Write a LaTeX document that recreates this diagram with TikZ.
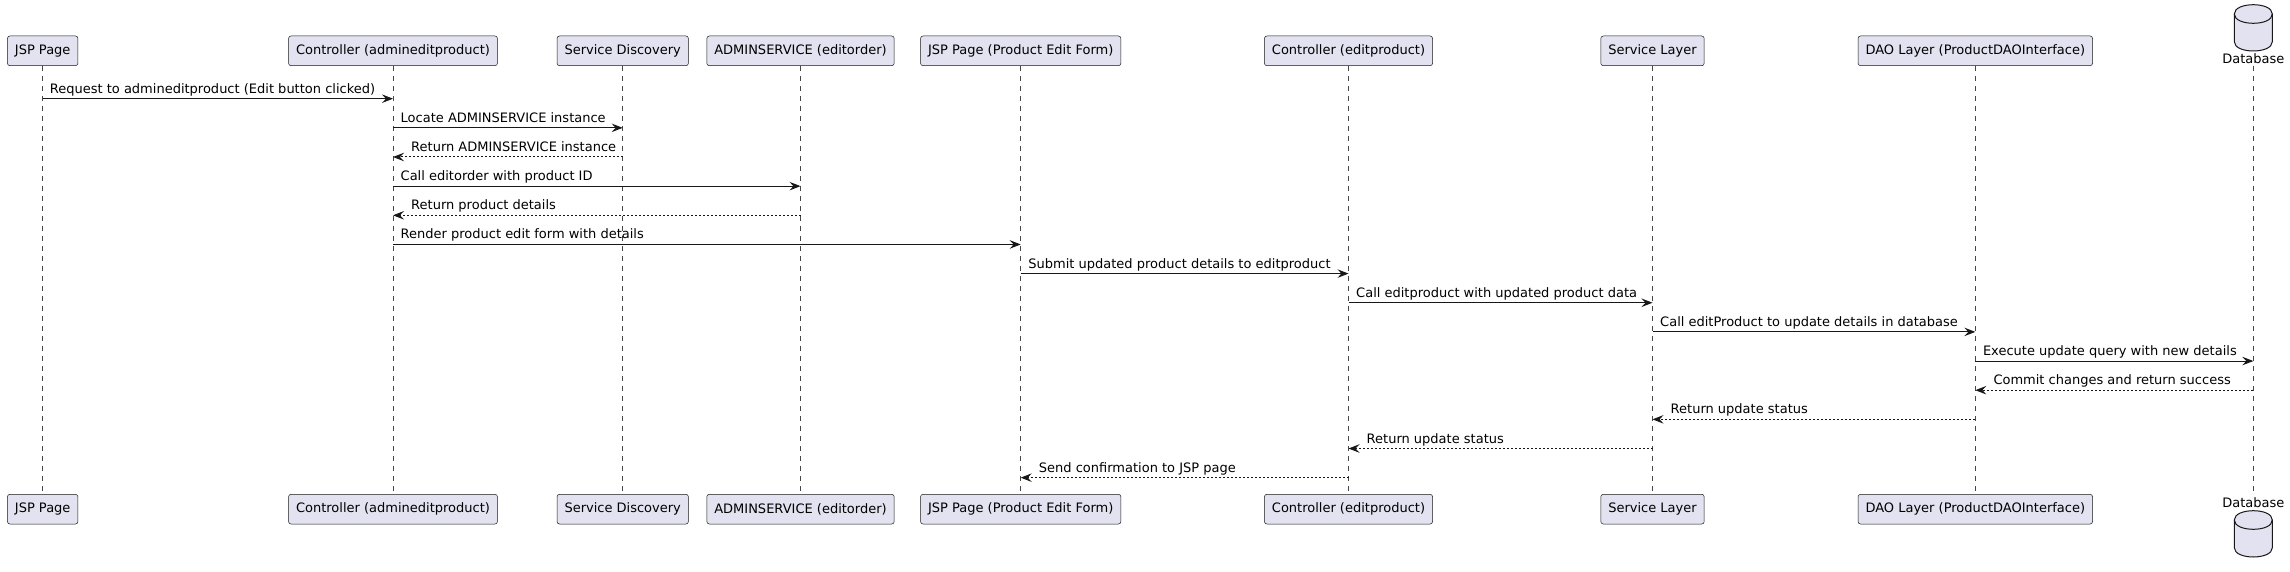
\documentclass[tikz,border=0pt]{standalone}
\usepackage{fontspec}
\setmainfont{DejaVu Sans}
\usetikzlibrary{arrows.meta}
\definecolor{partfill}{HTML}{E2E2F0}
\definecolor{ink}{HTML}{181818}
\tikzset{
  part/.style={draw=ink, line width=0.5pt, fill=partfill, rounded corners=2.5pt,
    minimum height=29.7pt, inner xsep=7.5pt, inner ysep=0pt,
    font=\fontsize{13}{15}\selectfont, text=black},
  life/.style={draw=ink!80, line width=0.5pt, dash pattern=on 5pt off 5pt},
  msg/.style={draw=ink, line width=1pt, -{Stealth[length=11pt,width=8.5pt,inset=4pt]}},
  ret/.style={msg, dash pattern=on 2pt off 2pt},
  lbl/.style={inner sep=0pt, anchor=base west, font=\fontsize{13}{15}\selectfont, text=black},
  dblbl/.style={inner sep=0pt, font=\fontsize{13}{15}\selectfont, text=black},
  cyl/.style={draw=ink, line width=1pt, fill=partfill}
}
\begin{document}
\begin{tikzpicture}[x=1pt,y=-1pt]
\useasboundingbox[fill=white] (0,0) rectangle (2290,572);
% participants (top)
\node[part] (p1t) at (42.7,50.85) {JSP Page};
\node[part] (p2t) at (393,50.85) {Controller (admineditproduct)};
\node[part] (p3t) at (622.7,50.85) {Service Discovery};
\node[part] (p4t) at (800.5,50.85) {ADMINSERVICE (editorder)};
\node[part] (p5t) at (1020.7,50.85) {JSP Page (Product Edit Form)};
\node[part] (p6t) at (1348.5,50.85) {Controller (editproduct)};
\node[part] (p7t) at (1652.5,50.85) {Service Layer};
\node[part] (p8t) at (1975.3,50.85) {DAO Layer (ProductDAOInterface)};
\node[dblbl] (p9t) at (2253.3,59) {Database};
% participants (bottom)
\node[part] (p1b) at (42.7,509.15) {JSP Page};
\node[part] (p2b) at (393,509.15) {Controller (admineditproduct)};
\node[part] (p3b) at (622.7,509.15) {Service Discovery};
\node[part] (p4b) at (800.5,509.15) {ADMINSERVICE (editorder)};
\node[part] (p5b) at (1020.7,509.15) {JSP Page (Product Edit Form)};
\node[part] (p6b) at (1348.5,509.15) {Controller (editproduct)};
\node[part] (p7b) at (1652.5,509.15) {Service Layer};
\node[part] (p8b) at (1975.3,509.15) {DAO Layer (ProductDAOInterface)};
\node[dblbl] (p9b) at (2253.3,502.5) {Database};
% database cylinders
\foreach \dy in {0,506}{
  \path[cyl] (2234.3,14+\dy) -- (2234.3,41.7+\dy)
     .. controls (2234.3,54.1+\dy) and (2272.3,54.1+\dy) .. (2272.3,41.7+\dy)
     -- (2272.3,14+\dy)
     .. controls (2272.3,1.6+\dy) and (2234.3,1.6+\dy) .. (2234.3,14+\dy) -- cycle;
  \draw[cyl, fill=none] (2234.3,14+\dy) .. controls (2234.3,26.4+\dy) and (2272.3,26.4+\dy) .. (2272.3,14+\dy);
}
% lifelines
\foreach \i in {1,...,8}{
  \draw[life] (p\i t.south) -- (p\i b.north);
}
\draw[life] ([yshift=-2pt]p9t.south) -- ([yshift=2pt]p9b.north);
% messages
\draw[msg] (p1t |- 0,98.7) -- (p2t |- 0,98.7);
\node[lbl] (l1) at ([xshift=7pt,yshift=5.5pt]p1t |- 0,98.7) {Request to admineditproduct (Edit button clicked)};
\draw[msg] (p2t |- 0,127.85) -- (p3t |- 0,127.85);
\node[lbl] (l2) at ([xshift=7.5pt,yshift=5.5pt]p2t |- 0,127.85) {Locate ADMINSERVICE instance};
\draw[ret] (p3t |- 0,157.0) -- (p2t |- 0,157.0);
\node[lbl] (l3) at ([xshift=18pt,yshift=5.5pt]p2t |- 0,157.0) {Return ADMINSERVICE instance};
\draw[msg] (p2t |- 0,186.15) -- (p4t |- 0,186.15);
\node[lbl] (l4) at ([xshift=7.5pt,yshift=5.5pt]p2t |- 0,186.15) {Call editorder with product ID};
\draw[ret] (p4t |- 0,215.3) -- (p2t |- 0,215.3);
\node[lbl] (l5) at ([xshift=18pt,yshift=5.5pt]p2t |- 0,215.3) {Return product details};
\draw[msg] (p2t |- 0,244.45) -- (p5t |- 0,244.45);
\node[lbl] (l6) at ([xshift=7.5pt,yshift=5.5pt]p2t |- 0,244.45) {Render product edit form with details};
\draw[msg] (p5t |- 0,273.6) -- (p6t |- 0,273.6);
\node[lbl] (l7) at ([xshift=7.5pt,yshift=5.5pt]p5t |- 0,273.6) {Submit updated product details to editproduct};
\draw[msg] (p6t |- 0,302.75) -- (p7t |- 0,302.75);
\node[lbl] (l8) at ([xshift=7.5pt,yshift=5.5pt]p6t |- 0,302.75) {Call editproduct with updated product data};
\draw[msg] (p7t |- 0,331.9) -- (p8t |- 0,331.9);
\node[lbl] (l9) at ([xshift=7.5pt,yshift=5.5pt]p7t |- 0,331.9) {Call editProduct to update details in database};
\draw[msg] (p8t |- 0,361.05) -- (p9t |- 0,361.05);
\node[lbl] (l10) at ([xshift=7.5pt,yshift=5.5pt]p8t |- 0,361.05) {Execute update query with new details};
\draw[ret] (p9t |- 0,390.2) -- (p8t |- 0,390.2);
\node[lbl] (l11) at ([xshift=18pt,yshift=5.5pt]p8t |- 0,390.2) {Commit changes and return success};
\draw[ret] (p8t |- 0,419.35) -- (p7t |- 0,419.35);
\node[lbl] (l12) at ([xshift=18pt,yshift=5.5pt]p7t |- 0,419.35) {Return update status};
\draw[ret] (p7t |- 0,448.5) -- (p6t |- 0,448.5);
\node[lbl] (l13) at ([xshift=18pt,yshift=5.5pt]p6t |- 0,448.5) {Return update status};
\draw[ret] (p6t |- 0,477.65) -- (p5t |- 0,477.65);
\node[lbl] (l14) at ([xshift=18pt,yshift=5.5pt]p5t |- 0,477.65) {Send confirmation to JSP page};
\end{tikzpicture}
\end{document}
